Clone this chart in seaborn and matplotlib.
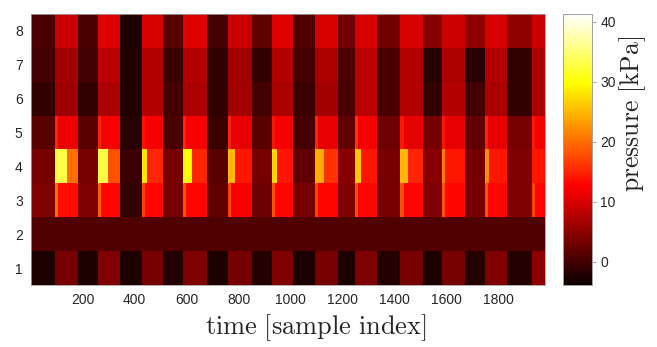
import numpy as np
import pandas as pd
import matplotlib
matplotlib.use("Agg")
import matplotlib.pyplot as plt
import seaborn as sns

# --- data (pressure in kPa, sensor rows 8..1) ---
n_samples = 1980
sensor_rows = [8, 7, 6, 5, 4, 3, 2, 1]

# start / end sample of each press
onsets = [93, 258, 428, 586, 760, 929, 1095, 1249, 1423, 1584, 1750, 1931]
offsets = [181, 343, 509, 679, 852, 1010, 1183, 1334, 1511, 1673, 1835, 1980]

# pressure level during each press, per sensor row
press_vals = {
    8: [9, 10.5, 10, 10.5, 9, 10.5, 10, 10, 10, 9.5, 10, 9],
    7: [6.5, 8, 7.5, 7.5, 6.5, 7.5, 7, 8, 7.5, 7, 7.5, 7],
    6: [6, 7, 7.5, 7, 6.5, 7, 6.5, 8, 7.5, 7.5, 7, 7],
    5: [11.5, 12, 12, 12, 11, 12, 11, 12, 11, 11, 11, 12],
    4: [20, 18, 15, 15, 14, 14, 16, 14, 15, 14, 14, 14],
    3: [13.5, 13, 13, 13, 12.5, 13, 13, 13, 13, 13, 13, 13],
    2: [1, 1, 1, 1, 1, 1, 1, 1, 1, 1, 1, 1],
    1: [3.5, 4, 3.5, 4, 3.5, 4, 3.5, 4, 3.5, 3.5, 4, 5],
}

# level before the first press and after each press
rest_vals = {
    8: [0.5, -2.5, 1.5, 0, 2, 1, 3, 3, 4.5, 5, 5, 4.5],
    7: [0, -2.2, -0.6, -1.2, -1.2, 0, 0.5, 0.5, -1.9, -1.9, -1.2, -1.6],
    6: [-1.2, -2.2, 0, -1.2, 0, -0.6, 0.5, 0.5, -1.2, 0, -1.2, 0.5],
    5: [1.4, -1.9, 0.5, -0.6, 1.4, 0, 2, 2.7, 3.4, 2, 3.4, 4],
    4: [3.4, -0.6, 3.4, 1.4, 3.4, 2, 4.7, 3.4, 4.7, 3.4, 4, 4],
    3: [4, -1.2, 3.4, 2, 2.7, 3.4, 4, 3.4, 4, 3.4, 4, 4.7],
    2: [1, 1, 1, 1, 1, 1, 1, 1, 1, 1, 1, 1],
    1: [-2.5, -2.5, -2, -2.5, -2, -2.5, -2.5, -2, -2.5, -2, -2, -1.5],
}

# short pressure peak at the start of each press
peak_vals = {
    5: [15, 15, 14, 15, 15, 14, 15, 16, 14, 14, 15, 14],
    4: [33, 33, 28, 30, 25, 27, 24, 26, 25, 21, 22, 14],
    3: [20, 19, 17, 18, 17, 18, 17, 18, 18, 18, 18, 17],
}
peak_len = {
    5: [12] * 12,
    4: [45, 38, 17, 35, 26, 19, 32, 23, 28, 10, 13, 0],
    3: [12] * 12,
}

# --- build the pressure map ---
grid = np.zeros((len(sensor_rows), n_samples))
for i, r in enumerate(sensor_rows):
    grid[i, :onsets[0]] = rest_vals[r][0]
    for k in range(len(onsets)):
        grid[i, onsets[k]:offsets[k]] = press_vals[r][k]
        if r in peak_vals:
            grid[i, onsets[k]:onsets[k] + peak_len[r][k]] = peak_vals[r][k]
        nxt = onsets[k + 1] if k + 1 < len(onsets) else n_samples
        grid[i, offsets[k]:nxt] = rest_vals[r][k]

df = pd.DataFrame(grid, index=sensor_rows, columns=np.arange(1, n_samples + 1))

sns.set_style("ticks")
plt.rcParams['font.family'] = ['Liberation Sans', 'DejaVu Sans']
plt.rcParams['mathtext.fontset'] = 'cm'

fig = plt.figure(figsize=(6.57, 3.47), dpi=100)
ax = fig.add_axes([0.0472, 0.1787, 0.7823, 0.781])
cax = fig.add_axes([0.857, 0.1787, 0.0441, 0.781])

sns.heatmap(df, ax=ax, cbar_ax=cax, cmap='hot', vmin=-3.9, vmax=41.3,
            xticklabels=False, yticklabels=False, rasterized=True)

xt = [200, 400, 600, 800, 1000, 1200, 1400, 1600, 1800]
ax.set_xticks([t - 0.5 for t in xt])
ax.set_xticklabels([str(t) for t in xt], fontsize=10, color='#262626')
ax.set_yticks([i + 0.5 for i in range(len(sensor_rows))])
ax.set_yticklabels([str(r) for r in sensor_rows], fontsize=10, color='#262626', rotation=0)
ax.tick_params(direction='in', length=3, width=0.5, color='#808080',
               top=True, right=True, pad=6)
for s in ax.spines.values():
    s.set_visible(True)
    s.set_color('#a0a0a0')
    s.set_linewidth(0.6)
ax.set_xlabel(r'$\mathrm{time\ [sample\ index]}$', fontsize=19, labelpad=1)
ax.xaxis.set_label_coords(0.554, -0.1)
ax.xaxis.label.set_va('top')
ax.set_ylabel('')

cax.set_yticks([0, 10, 20, 30, 40])
cax.set_yticklabels(['0', '10', '20', '30', '40'], fontsize=10, color='#262626')
cax.tick_params(direction='out', length=3, width=0.5, color='#808080', pad=3)
for s in cax.spines.values():
    s.set_visible(True)
    s.set_color('#a0a0a0')
    s.set_linewidth(0.6)
cax.set_ylabel(r'$\mathrm{pressure\ [kPa]}$', fontsize=18.5)
cax.yaxis.set_label_coords(1.86, 0.63)

fig.savefig('out.png', dpi=100)
